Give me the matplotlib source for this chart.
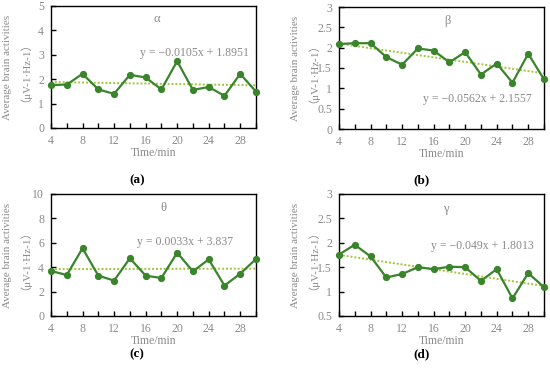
import numpy as np
import matplotlib

matplotlib.use("Agg")
import matplotlib.pyplot as plt
from matplotlib.ticker import FixedLocator

plt.rcParams.update(
    {
        "font.family": ["Liberation Serif", "Noto Sans CJK SC"],
        "font.size": 8.5,
        "axes.linewidth": 1.0,
    }
)

time_min = [4, 6, 8, 10, 12, 14, 16, 18, 20, 22, 24, 26, 28, 30]

alpha_vals = [1.76, 1.78, 2.22, 1.58, 1.40, 2.18, 2.07, 1.58, 2.74, 1.56, 1.68, 1.32, 2.22, 1.49]
beta_vals = [2.09, 2.11, 2.11, 1.77, 1.58, 1.98, 1.93, 1.64, 1.89, 1.34, 1.61, 1.14, 1.85, 1.22]
theta_vals = [3.69, 3.36, 5.55, 3.31, 2.90, 4.73, 3.31, 3.11, 5.19, 3.66, 4.64, 2.49, 3.47, 4.67]
gamma_vals = [1.76, 1.96, 1.72, 1.29, 1.36, 1.50, 1.46, 1.51, 1.50, 1.22, 1.46, 0.86, 1.38, 1.09]

# trend line coefficients (x = sample index 1..14)
slopes = [-0.0105, -0.0562, 0.0033, -0.049]
intercepts = [1.8951, 2.1557, 3.837, 1.8013]
equations = [
    "y = \u22120.0105x + 1.8951",
    "y = \u22120.0562x + 2.1557",
    "y = 0.0033x + 3.837",
    "y = \u22120.049x + 1.8013",
]
bands = ["\u03b1", "\u03b2", "\u03b8", "\u03b3"]
panel_tags = ["a", "b", "c", "d"]
y_limits = [(0, 5), (0, 3), (0, 10), (0.5, 3)]
y_ticks = [
    [0, 1, 2, 3, 4, 5],
    [0, 0.5, 1, 1.5, 2, 2.5, 3],
    [0, 2, 4, 6, 8, 10],
    [0.5, 1, 1.5, 2, 2.5, 3],
]
y_tick_labels = [
    ["0", "1", "2", "3", "4", "5"],
    ["0", "0.5", "1", "1.5", "2", "2.5", "3"],
    ["0", "2", "4", "6", "8", "10"],
    ["0.5", "1", "1.5", "2", "2.5", "3"],
]
series = [alpha_vals, beta_vals, theta_vals, gamma_vals]

LINE_GREEN = "#3a842c"
TREND_GREEN = "#a2c43a"
GREY = "#8a8a8a"

W, H = 550, 370
boxes = [(51, 6, 256, 128), (339, 7, 544, 129), (51, 194, 256, 316), (339, 194, 544, 316)]
eq_pos = [(0.70, 0.615), (0.673, 0.246), (0.654, 0.607), (0.70, 0.574)]
band_pos = [(0.517, 0.893), (0.53, 0.885), (0.546, 0.885), (0.52, 0.877)]
tag_pos = [(137, 180), (422, 180), (137, 354), (422, 354)]

fig = plt.figure(figsize=(W / 100, H / 100), dpi=100)

for k in range(4):
    x0, y0, x1, y1 = boxes[k]
    ax = fig.add_axes([x0 / W, 1 - y1 / H, (x1 - x0) / W, (y1 - y0) / H])
    vals = series[k]

    idx = np.arange(1, len(time_min) + 1)
    trend = slopes[k] * idx + intercepts[k]
    ax.plot(time_min, trend, linestyle=(0, (1.0, 1.0)), color=TREND_GREEN, linewidth=1.4, zorder=2)
    ax.plot(time_min, vals, color=LINE_GREEN, linewidth=1.6, marker="o", markersize=4.2, zorder=3, clip_on=False)

    ax.set_xlim(4, 30)
    ax.set_ylim(*y_limits[k])
    ax.xaxis.set_major_locator(FixedLocator([4, 8, 12, 16, 20, 24, 28]))
    ax.xaxis.set_minor_locator(FixedLocator([6, 10, 14, 18, 22, 26, 30]))
    ax.set_yticks(y_ticks[k])
    ax.set_yticklabels(y_tick_labels[k])
    ax.tick_params(axis="both", which="both", direction="in", length=3.5, width=1.0,
                   colors="black", labelcolor=GREY, labelsize=8.5)
    ax.tick_params(axis="x", which="major", pad=5)
    ax.tick_params(axis="y", which="major", pad=5)

    ax.set_xlabel("Time/min", color=GREY, fontsize=8.5, labelpad=0)
    ax.text(-0.18, 0.5, "Average brain activities\n\uff08\u03bcV-1\u00b7Hz-1\uff09",
            transform=ax.transAxes, rotation=90, ha="center", va="center",
            ma="center", color=GREY, fontsize=8, linespacing=1.1)

    ax.text(*eq_pos[k], equations[k], transform=ax.transAxes, ha="center", va="center",
            color=GREY, fontsize=8.5)
    ax.text(*band_pos[k], bands[k], transform=ax.transAxes, ha="center", va="center",
            color=GREY, fontsize=9)

    fig.text(tag_pos[k][0] / W, 1 - tag_pos[k][1] / H, f"({panel_tags[k]})",
             ha="center", va="center", fontsize=9.5, fontweight="bold", color="black")

fig.savefig("out.png", dpi=100)
